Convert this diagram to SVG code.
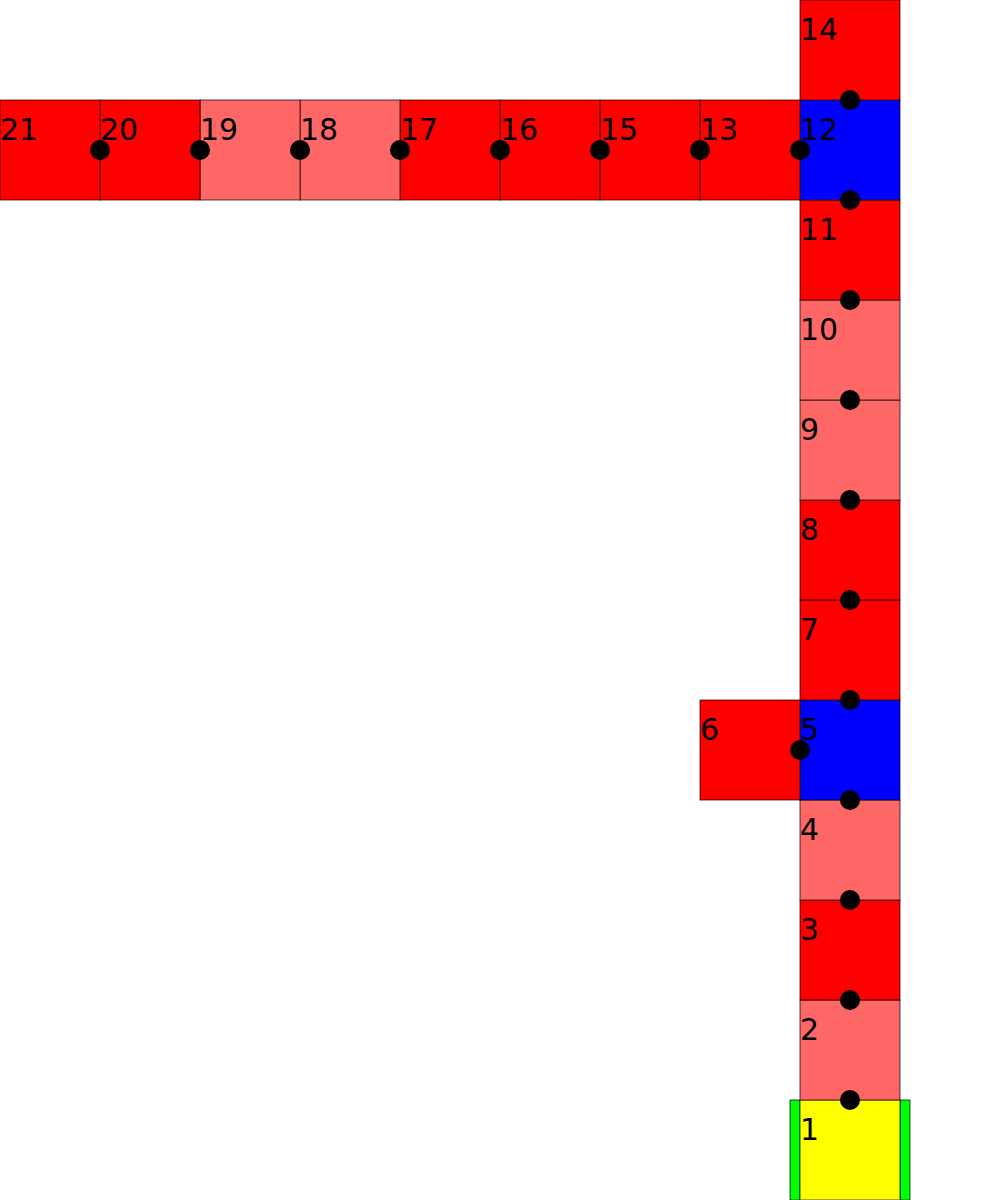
<svg xmlns="http://www.w3.org/2000/svg" width="1000" height="1200" viewBox="0 0 1000 1200">
<style>
rect{stroke:#000;stroke-width:1;stroke-opacity:0.7}
.r{fill:#ff0000}.l{fill:#ff6666}.b{fill:#0000ff}.y{fill:#ffff00}.g{fill:#00ff00}
text{font-family:"DejaVu Sans",sans-serif;font-size:30px;fill:#000}
circle{fill:#000}
</style>
<rect x="0" y="0" width="1000" height="1200" fill="#fff" style="stroke:none"/>
<g id="n1"><rect class="g" x="790" y="1100" width="10" height="100"/><rect class="g" x="900" y="1100" width="10" height="100"/><rect class="y" x="800" y="1100" width="100" height="100"/><text x="800" y="1140">1</text></g>
<g id="n2"><rect class="l" x="800" y="1000" width="100" height="100"/><text x="800" y="1040">2</text></g>
<g id="n3"><rect class="r" x="800" y="900" width="100" height="100"/><text x="800" y="940">3</text></g>
<g id="n4"><rect class="l" x="800" y="800" width="100" height="100"/><text x="800" y="840">4</text></g>
<g id="n5"><rect class="b" x="800" y="700" width="100" height="100"/><text x="800" y="740">5</text></g>
<g id="n6"><rect class="r" x="700" y="700" width="100" height="100"/><text x="700" y="740">6</text></g>
<g id="n7"><rect class="r" x="800" y="600" width="100" height="100"/><text x="800" y="640">7</text></g>
<g id="n8"><rect class="r" x="800" y="500" width="100" height="100"/><text x="800" y="540">8</text></g>
<g id="n9"><rect class="l" x="800" y="400" width="100" height="100"/><text x="800" y="440">9</text></g>
<g id="n10"><rect class="l" x="800" y="300" width="100" height="100"/><text x="800" y="340">10</text></g>
<g id="n11"><rect class="r" x="800" y="200" width="100" height="100"/><text x="800" y="240">11</text></g>
<g id="n12"><rect class="b" x="800" y="100" width="100" height="100"/><text x="800" y="140">12</text></g>
<g id="n14"><rect class="r" x="800" y="0" width="100" height="100"/><text x="800" y="40">14</text></g>
<g id="n13"><rect class="r" x="700" y="100" width="100" height="100"/><text x="700" y="140">13</text></g>
<g id="n15"><rect class="r" x="600" y="100" width="100" height="100"/><text x="600" y="140">15</text></g>
<g id="n16"><rect class="r" x="500" y="100" width="100" height="100"/><text x="500" y="140">16</text></g>
<g id="n17"><rect class="r" x="400" y="100" width="100" height="100"/><text x="400" y="140">17</text></g>
<g id="n18"><rect class="l" x="300" y="100" width="100" height="100"/><text x="300" y="140">18</text></g>
<g id="n19"><rect class="l" x="200" y="100" width="100" height="100"/><text x="200" y="140">19</text></g>
<g id="n20"><rect class="r" x="100" y="100" width="100" height="100"/><text x="100" y="140">20</text></g>
<g id="n21"><rect class="r" x="0" y="100" width="100" height="100"/><text x="0" y="140">21</text></g>
<g id="connectors">
<circle cx="850" cy="100" r="10"/><circle cx="850" cy="200" r="10"/><circle cx="850" cy="300" r="10"/><circle cx="850" cy="400" r="10"/><circle cx="850" cy="500" r="10"/><circle cx="850" cy="600" r="10"/><circle cx="850" cy="700" r="10"/><circle cx="850" cy="800" r="10"/><circle cx="850" cy="900" r="10"/><circle cx="850" cy="1000" r="10"/><circle cx="850" cy="1100" r="10"/>
<circle cx="800" cy="750" r="10"/>
<circle cx="800" cy="150" r="10"/><circle cx="700" cy="150" r="10"/><circle cx="600" cy="150" r="10"/><circle cx="500" cy="150" r="10"/><circle cx="400" cy="150" r="10"/><circle cx="300" cy="150" r="10"/><circle cx="200" cy="150" r="10"/><circle cx="100" cy="150" r="10"/>
</g>
</svg>
